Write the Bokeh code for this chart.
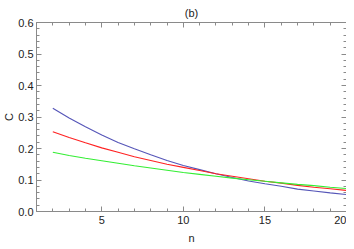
from bokeh.plotting import figure
from bokeh.models import LinearAxis, Range1d, FixedTicker, PrintfTickFormatter, CustomJSTickFormatter
from bokeh.embed import file_html
from bokeh.resources import INLINE

n_vals = list(range(2, 21))
c_blue = [0.328, 0.297, 0.269, 0.243, 0.219, 0.199, 0.180, 0.162, 0.146, 0.133,
          0.120, 0.108, 0.097, 0.088, 0.080, 0.071, 0.065, 0.059, 0.054]
c_red = [0.253, 0.235, 0.218, 0.202, 0.188, 0.174, 0.162, 0.150, 0.140, 0.130,
         0.120, 0.112, 0.104, 0.096, 0.090, 0.083, 0.077, 0.072, 0.067]
c_green = [0.188, 0.178, 0.169, 0.161, 0.153, 0.145, 0.138, 0.131, 0.124, 0.118,
           0.112, 0.106, 0.101, 0.096, 0.091, 0.086, 0.082, 0.077, 0.073]

x_major = [5, 10, 15, 20]
x_minor = list(range(1, 21))
y_major = [0.0, 0.1, 0.2, 0.3, 0.4, 0.5, 0.6]
y_minor = [round(i * 0.02, 2) for i in range(31)]

FONT = "Liberation Sans"
GRAY = "#8a8a8a"

p = figure(width=346, height=246, output_backend="svg", toolbar_location=None,
           x_range=Range1d(1, 20), y_range=Range1d(0, 0.6),
           x_axis_label="n", y_axis_label="C", title="(b)",
           min_border_left=0, min_border_right=0, min_border_top=0, min_border_bottom=0)
p.title.align = "center"
p.title.text_font = FONT
p.title.text_font_size = "11px"
p.title.text_font_style = "normal"
p.title.text_color = "#222222"
p.title.offset = 0
p.title.standoff = 8
p.grid.visible = False
p.outline_line_color = None
p.background_fill_color = "white"
p.border_fill_color = "white"

p.line(n_vals, c_blue, line_color="#5555b8", line_width=1.1)
p.line(n_vals, c_red, line_color="#ff2222", line_width=1.1)
p.line(n_vals, c_green, line_color="#33ee33", line_width=1.1)

p.add_layout(LinearAxis(), "above")
p.add_layout(LinearAxis(), "right")

for ax in p.xaxis:
    ax.ticker = FixedTicker(ticks=x_major, minor_ticks=x_minor)
for ax in p.yaxis:
    ax.ticker = FixedTicker(ticks=y_major, minor_ticks=y_minor)
p.yaxis[0].formatter = PrintfTickFormatter(format="%.1f")

for ax in p.axis:
    ax.axis_line_color = GRAY
    ax.major_tick_line_color = GRAY
    ax.minor_tick_line_color = GRAY
    ax.major_tick_in = 5
    ax.major_tick_out = 0
    ax.minor_tick_in = 3
    ax.minor_tick_out = 0
    ax.major_label_text_font = FONT
    ax.major_label_text_font_size = "11px"
    ax.major_label_text_color = "#222222"
    ax.axis_label_text_font = FONT
    ax.axis_label_text_font_size = "11px"
    ax.axis_label_text_font_style = "normal"
    ax.axis_label_text_color = "#222222"
    ax.major_label_standoff = 4

for ax in (p.above[0], p.right[0]):
    ax.formatter = CustomJSTickFormatter(code="return '';")
    ax.major_label_standoff = 0

p.yaxis[0].major_label_standoff = 3
p.xaxis[0].axis_label_standoff = 10
p.yaxis[0].axis_label_standoff = 0

open("out.html", "w").write(file_html(p, INLINE))
